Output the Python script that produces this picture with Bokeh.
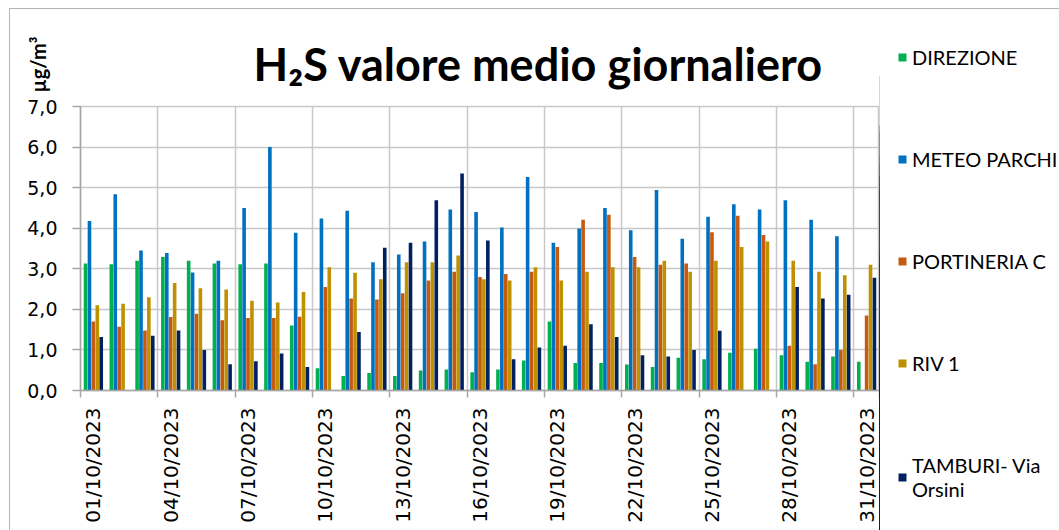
import math
from bokeh.plotting import figure
from bokeh.layouts import row, column
from bokeh.models import (ColumnDataSource, FixedTicker, Legend, LegendItem, Label, Range1d,
                          InlineStyleSheet)
from bokeh.transform import dodge
from bokeh.embed import file_html
from bokeh.resources import INLINE

dates = [f"{d:02d}/10/2023" for d in range(1, 32)]
days = list(range(1, 32))
nan = float("nan")

direzione = [3.13, 3.11, 3.20, 3.29, 3.20, 3.13, 3.11, 3.13, 1.60, 0.55, 0.36, 0.43, 0.36, 0.49, 0.52,
             0.45, 0.52, 0.74, 1.70, 0.68, 0.68, 0.64, 0.58, 0.81, 0.77, 0.93, 1.03, 0.87, 0.71, 0.84, 0.71]
meteo_parchi = [4.18, 4.84, 3.45, 3.39, 2.91, 3.20, 4.50, 6.00, 3.89, 4.24, 4.43, 3.16, 3.35, 3.67, 4.46,
                4.40, 4.02, 5.26, 3.64, 3.99, 4.50, 3.95, 4.94, 3.74, 4.28, 4.59, 4.46, 4.69, 4.21, 3.80, nan]
portineria_c = [1.70, 1.57, 1.48, 1.81, 1.89, 1.73, 1.79, 1.79, 1.82, 2.55, 2.27, 2.24, 2.40, 2.71, 2.93,
                2.80, 2.87, 2.93, 3.54, 4.21, 4.33, 3.29, 3.10, 3.13, 3.90, 4.31, 3.83, 1.10, 0.65, 1.00, 1.85]
riv_1 = [2.10, 2.14, 2.30, 2.65, 2.52, 2.49, 2.21, 2.17, 2.43, 3.04, 2.90, 2.74, 3.16, 3.16, 3.33,
         2.74, 2.71, 3.04, 2.71, 2.93, 3.04, 3.04, 3.20, 2.93, 3.20, 3.54, 3.67, 3.20, 2.93, 2.84, 3.10]
tamburi = [1.32, nan, 1.35, 1.48, 1.00, 0.65, 0.72, 0.91, 0.58, nan, 1.44, 3.52, 3.64, 4.69, 5.35,
           3.70, 0.77, 1.06, 1.10, 1.63, 1.32, 0.87, 0.84, 1.00, 1.47, nan, nan, 2.55, 2.27, 2.36, 2.78]

series_names = ["DIREZIONE", "METEO PARCHI", "PORTINERIA C", "RIV 1", "TAMBURI- Via\nOrsini"]
series_keys = ["direzione", "meteo", "portineria", "riv", "tamburi"]
colors = ["#00B050", "#0070C0", "#C55A11", "#BF9000", "#002060"]
y_ticks = [0, 1, 2, 3, 4, 5, 6, 7]
y_labels = ["0,0", "1,0", "2,0", "3,0", "4,0", "5,0", "6,0", "7,0"]
title_text = "H₂S valore medio giornaliero"
unit_text = "µg/m³"

source = ColumnDataSource(dict(day=days, direzione=direzione, meteo=meteo_parchi,
                               portineria=portineria_c, riv=riv_1, tamburi=tamburi))

GRID = "#c8c8c8"
AXIS = "#a6a6a6"
TOP_H = 94

# ---- header strip: title and unit
top = figure(width=879, height=TOP_H, output_backend="svg", toolbar_location=None,
             x_range=Range1d(0, 1), y_range=Range1d(0, 1), frame_align=False,
             min_border_left=0, min_border_right=0, min_border_top=0, min_border_bottom=0)
top.axis.visible = False
top.grid.visible = False
top.outline_line_color = None
top.add_layout(Label(x=253, y=TOP_H - 63, x_units="screen", y_units="screen", text=title_text,
                     text_font="Lato", text_font_style="bold", text_font_size="45px",
                     text_color="#000000", text_baseline="middle"))
top.add_layout(Label(x=37, y=TOP_H - 64, x_units="screen", y_units="screen", angle=math.pi / 2,
                     text=unit_text, text_font="Lato", text_font_style="bold",
                     text_font_size="20px", text_color="#000000", text_align="center",
                     text_baseline="middle"))

# ---- main chart
p = figure(width=879, height=530 - TOP_H, output_backend="svg", toolbar_location=None,
           x_range=Range1d(0.5, 31.5), y_range=Range1d(0, 7), frame_align=False,
           min_border_left=80, min_border_right=0, min_border_top=106 - TOP_H, min_border_bottom=140)
p.outline_line_color = GRID
p.outline_line_width = 1.5

bw = 0.152
offsets = [-2 * bw, -bw, 0, bw, 2 * bw]
for key, col, off in zip(series_keys, colors, offsets):
    p.vbar(x=dodge("day", off), top=key, width=bw * 0.92, bottom=0, source=source,
           fill_color=col, line_color=None)

centers = list(range(1, 32, 3))
bounds = [c - 0.5 for c in centers] + [31.5]
p.xaxis.ticker = FixedTicker(ticks=centers, minor_ticks=bounds)
p.xaxis.major_label_overrides = {c: dates[c - 1] for c in centers}
p.xaxis.major_label_orientation = math.pi / 2
p.xaxis.major_tick_line_color = None
p.xaxis.minor_tick_line_color = AXIS
p.xaxis.minor_tick_out = 7
p.xaxis.minor_tick_in = 0
p.xaxis.minor_tick_line_width = 1.5
p.xaxis.major_label_standoff = 10
p.xaxis.major_label_text_font = "DejaVu Sans"
p.xaxis.major_label_text_font_size = "20px"
p.xaxis.major_label_text_color = "#000000"
p.xaxis.axis_line_color = AXIS
p.xaxis.axis_line_width = 1.5
p.xgrid.ticker = FixedTicker(ticks=bounds)
p.xgrid.grid_line_color = GRID
p.xgrid.grid_line_width = 1.5

p.yaxis.ticker = FixedTicker(ticks=y_ticks)
p.yaxis.major_label_overrides = {t: l for t, l in zip(y_ticks, y_labels)}
p.yaxis.major_label_text_font = "DejaVu Sans"
p.yaxis.major_label_text_font_size = "19px"
p.yaxis.major_label_text_color = "#000000"
p.yaxis.major_tick_out = 8
p.yaxis.major_tick_in = 0
p.yaxis.major_tick_line_color = AXIS
p.yaxis.major_tick_line_width = 1.5
p.yaxis.minor_tick_line_color = None
p.yaxis.axis_line_color = AXIS
p.yaxis.axis_line_width = 1.5
p.yaxis.major_label_standoff = 15
p.ygrid.grid_line_color = GRID
p.ygrid.grid_line_width = 1.5

# ---- legend panel
lf = figure(width=180, height=530, output_backend="svg", toolbar_location=None,
            x_range=Range1d(100, 101), y_range=Range1d(0, 7), frame_align=False,
            min_border_left=0, min_border_right=0, min_border_top=0, min_border_bottom=0)
lf.axis.visible = False
lf.grid.visible = False
lf.outline_line_color = None
leg_renderers = []
for key, col in zip(series_keys, colors):
    leg_renderers.append(lf.vbar(x="day", top=key, width=0.5, source=source,
                                 fill_color=col, line_color=None))
legend = Legend(items=[LegendItem(label=n, renderers=[r]) for n, r in zip(series_names, leg_renderers)],
                location=(18, 29))
legend.label_text_font = "Lato"
legend.label_text_font_size = "20px"
legend.label_text_color = "#000000"
legend.glyph_width = 10
legend.glyph_height = 10
legend.label_height = 24
legend.label_standoff = 5
legend.spacing = 78
legend.padding = 0
legend.margin = 0
legend.border_line_color = None
legend.background_fill_alpha = 0
lf.add_layout(legend)

layout = row(column(top, p, spacing=0), lf, spacing=0)
layout.stylesheets = [InlineStyleSheet(css=(
    ":host { position: relative; }"
    ":host::after { content: ''; position: absolute; left: 9px; top: 8px; right: 0; bottom: 0;"
    " border-left: 1.5px solid #b4b4b4; border-top: 1.5px solid #b4b4b4; pointer-events: none; }"))]
open("out.html", "w").write(file_html(layout, INLINE))
